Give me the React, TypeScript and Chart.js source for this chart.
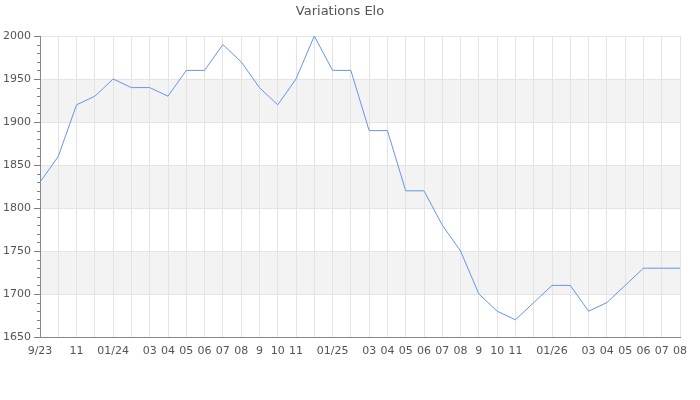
import React, { useEffect, useRef } from "react";
import { Chart, registerables } from "chart.js";

Chart.register(...registerables);

const TITLE = "Variations Elo";
const monthLabels: string[] = [
  "9/23", "", "11", "", "01/24", "", "03", "04", "05", "06", "07", "08",
  "9", "10", "11", "", "01/25", "", "03", "04", "05", "06", "07", "08",
  "9", "10", "11", "", "01/26", "", "03", "04", "05", "06", "07", "08",
];
const eloValues: number[] = [
  1830, 1860, 1920, 1930, 1950, 1940, 1940, 1930, 1960, 1960, 1990, 1970,
  1940, 1920, 1950, 2000, 1960, 1960, 1890, 1890, 1820, 1820, 1780, 1750,
  1700, 1680, 1670, 1690, 1710, 1710, 1680, 1690, 1710, 1730, 1730, 1730,
];
const yMin = 1650;
const yMax = 2000;
const yStep = 50;
const minorStep = 10;

const FONT = "'DejaVu Sans', sans-serif";
const TEXT = "#545454";

const decorPlugin = {
  id: "decor",
  beforeDraw(chart: any) {
    const { ctx, chartArea } = chart;
    const y = chart.scales.y;
    ctx.save();
    ctx.fillStyle = "#f3f3f3";
    for (let v = yMin; v < yMax; v += yStep) {
      const idx = Math.round((v - yMin) / yStep);
      if (idx % 2 === 1) {
        const top = y.getPixelForValue(v + yStep);
        const bot = y.getPixelForValue(v);
        ctx.fillRect(chartArea.left, top, chartArea.right - chartArea.left, bot - top);
      }
    }
    ctx.restore();
  },
  afterDatasetsDraw(chart: any) {
    const { ctx, chartArea } = chart;
    const y = chart.scales.y;
    ctx.save();
    ctx.strokeStyle = "#808080";
    ctx.lineWidth = 1;
    ctx.beginPath();
    for (let v = yMin; v <= yMax; v += minorStep) {
      const py = Math.round(y.getPixelForValue(v)) + 0.5;
      const major = (v - yMin) % yStep === 0;
      const len = major ? 6 : 3;
      ctx.moveTo(chartArea.left - len, py);
      ctx.lineTo(chartArea.left, py);
    }
    ctx.stroke();
    ctx.restore();
  },
};

export default function App() {
  const ref = useRef<HTMLCanvasElement | null>(null);
  useEffect(() => {
    if (!ref.current) return;
    const chart = new Chart(ref.current, {
      type: "line",
      data: {
        labels: monthLabels,
        datasets: [
          {
            data: eloValues,
            borderColor: "#6495ed",
            borderWidth: 1,
            pointRadius: 0,
            tension: 0,
            fill: false,
          },
        ],
      },
      options: {
        animation: false,
        responsive: false,
        layout: { padding: { left: 0, right: 20, top: 0, bottom: 0 } },
        plugins: {
          legend: { display: false },
          tooltip: { enabled: false },
          title: {
            display: true,
            text: TITLE,
            color: "#545454",
            font: { family: FONT, size: 13, weight: "normal" },
            padding: { top: 4, bottom: 16.4 },
          },
        },
        scales: {
          x: {
            offset: false,
            grid: { color: "#e4e4e4", drawTicks: false },
            border: { color: "#888888" },
            ticks: {
              autoSkip: false,
              maxRotation: 0,
              minRotation: 0,
              padding: 8,
              color: TEXT,
              font: { family: FONT, size: 11 },
            },
            afterFit(scale: any) {
              scale.height = 63;
            },
          },
          y: {
            min: yMin,
            max: yMax,
            grid: { color: "#e4e4e4", drawTicks: false },
            border: { color: "#888888" },
            ticks: {
              stepSize: yStep,
              padding: 9,
              color: TEXT,
              font: { family: FONT, size: 11 },
              callback: (v: any) => String(v),
            },
            afterFit(scale: any) {
              scale.width = 40;
            },
          },
        },
      },
      plugins: [decorPlugin],
    });
    return () => chart.destroy();
  }, []);
  return (
    <div style={{ position: "absolute", left: 0, top: 0, width: 700, height: 400, background: "#fff" }}>
      <canvas ref={ref} width={700} height={400} />
    </div>
  );
}
